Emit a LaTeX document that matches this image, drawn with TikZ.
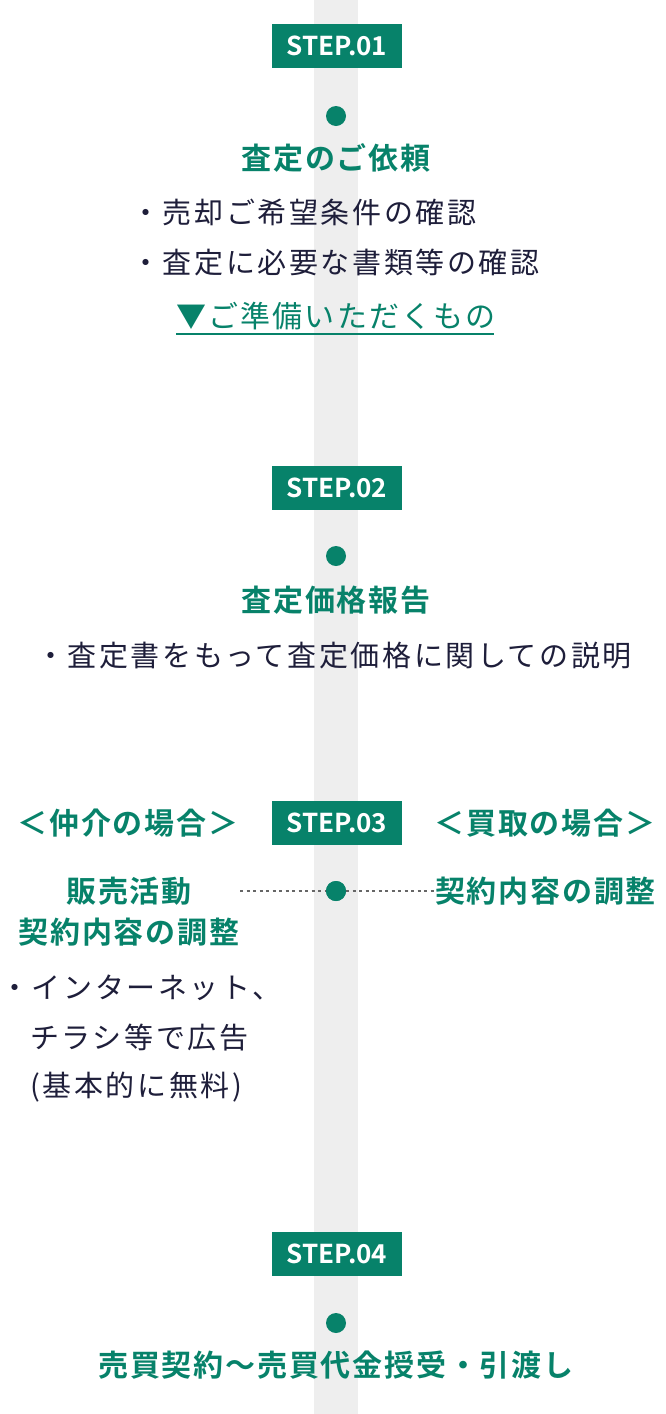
\documentclass[tikz,border=0pt]{standalone}
\usepackage{fontspec}
\usetikzlibrary{positioning}
\setmainfont{Noto Sans CJK JP}
\newfontfamily\stepface{Noto Sans CJK JP Bold}
\newfontfamily\headface{Noto Sans CJK JP Bold}[LetterSpace=6]
\newfontfamily\bodyface{Noto Sans CJK JP}[LetterSpace=9]
\newfontfamily\linkface{Noto Sans CJK JP}[LetterSpace=7]
\newcommand{\stepfont}{\stepface\fontsize{26}{30}\selectfont}
\newcommand{\headfont}{\headface\fontsize{30}{41}\selectfont}
\newcommand{\bodyfont}{\bodyface\fontsize{29}{50}\selectfont}
\newcommand{\linkfont}{\linkface\fontsize{30}{34}\selectfont}
\definecolor{stepgreen}{HTML}{07826A}
\definecolor{railgray}{HTML}{EEEEEE}
\definecolor{inkdark}{HTML}{1E1E3A}
\definecolor{dotgray}{HTML}{666666}
\begin{document}
\begin{tikzpicture}[x=1pt,y=-1pt]
	\tikzstyle{badge}=[rectangle, fill=stepgreen, text=white, minimum width=130pt, minimum height=44pt, inner sep=0pt, font=\stepfont]
	\tikzstyle{spot}=[circle, fill=stepgreen, minimum size=20pt, inner sep=0pt]
	\tikzstyle{head}=[inner sep=0pt, text=stepgreen, text height=26.4pt, text depth=3.6pt, font=\headfont]
	\tikzstyle{body}=[inner sep=0pt, text=inkdark, text height=25.5pt, text depth=3.5pt, font=\bodyfont]
	\tikzstyle{connect}=[dotgray, line width=1.2pt, dash pattern=on 3pt off 3.5pt]
	\useasboundingbox (0,0) rectangle (666,1414);
	\fill[railgray] (314,0) rectangle (358,1414);
	% step 1
	\node[badge] (step1) at (337,46) {STEP.01};
	\node[spot] (dot1) at (336,116) {};
	\node[head] (request) at (336,158) {査定のご依頼};
	\node[body, anchor=west] (req1) at (131,212) {・売却ご希望条件の確認};
	\node[body, anchor=west] (req2) at (131,262) {・査定に必要な書類等の確認};
	\node[inner sep=0pt, text=stepgreen, text height=26.4pt, text depth=3.6pt, font=\linkfont] (guide) at (336,316) {▼ご準備いただくもの};
	\draw[stepgreen, line width=1.5pt] ([yshift=-3pt]guide.south west) -- ([yshift=-3pt,xshift=-2pt]guide.south east);
	% step 2
	\node[badge] (step2) at (337,488) {STEP.02};
	\node[spot] (dot2) at (336,556) {};
	\node[head] (report) at (336,600) {査定価格報告};
	\node[body] (explain) at (334,655) {・査定書をもって査定価格に関しての説明};
	% step 3
	\node[head] (brokerlabel) at (128,823) {＜仲介の場合＞};
	\node[badge] (step3) at (337,823) {STEP.03};
	\node[head] (buyerlabel) at (545,823) {＜買取の場合＞};
	\node[head, align=center, text height=67.4pt] (brokerhead) at (129,911.5) {販売活動\\契約内容の調整};
	\node[head, anchor=west] (buyerhead) at (435,891) {契約内容の調整};
	\node[body, anchor=west] (ad1) at (0,987) {・インターネット、};
	\node[body, anchor=west] (ad2) at (30,1037) {チラシ等で広告};
	\node[body, anchor=west] (ad3) at (30,1085) {(基本的に無料)};
	\coordinate (brokerend) at (240,891);
	\node[spot] (dot3) at (336,891) {};
	\draw[connect] (brokerend) -- (dot3);
	\draw[connect] (dot3) -- (buyerhead);
	\node[spot] at (dot3) {};
	% step 4
	\node[badge] (step4) at (337,1254) {STEP.04};
	\node[spot] (dot4) at (336,1323) {};
	\node[head] (contract) at (336,1365) {売買契約～売買代金授受・引渡し};
\end{tikzpicture}
\end{document}
